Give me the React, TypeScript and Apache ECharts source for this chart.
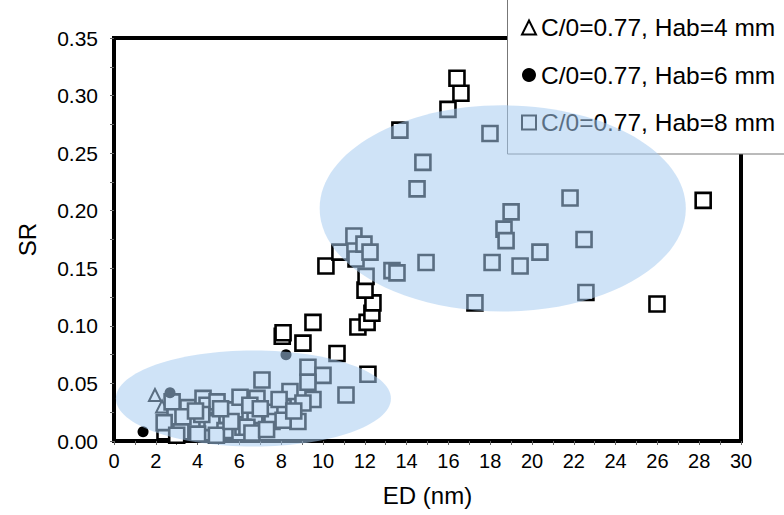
import React, { useEffect, useRef } from "react";
import * as echarts from "echarts";

const seriesNames = ["C/0=0.77, Hab=4 mm", "C/0=0.77, Hab=6 mm", "C/0=0.77, Hab=8 mm"];

const xRange = [0, 30];
const xStep = 2;
const yRange = [0, 0.35];
const yStep = 0.05;

const hab4Points: number[][] = [
  [1.96, 0.040],
  [2.3, 0.030],
];

const hab6Points: number[][] = [
  [1.39, 0.008],
  [2.68, 0.042],
  [8.23, 0.075],
];

const hab8Points: number[][] = [
  [2.78, 0.034], [3.54, 0.029], [2.92, 0.021], [4.26, 0.037], [4.45, 0.031],
  [4.93, 0.034], [3.73, 0.014], [4.69, 0.016], [5.41, 0.022], [5.79, 0.027],
  [6.03, 0.038], [7.08, 0.053], [6.84, 0.037], [6.75, 0.022], [6.17, 0.012],
  [5.31, 0.009], [9.28, 0.064], [10.0, 0.057], [9.28, 0.051], [8.42, 0.043],
  [9.52, 0.036], [11.1, 0.040], [8.09, 0.029], [7.46, 0.025], [9.04, 0.033],
  [8.8, 0.017], [7.56, 0.017], [6.36, 0.012], [8.09, 0.018], [12.15, 0.058],
  [2.44, 0.008], [2.4, 0.016], [3.2, 0.008],
  [3.0, 0.005], [4.0, 0.006], [4.9, 0.005], [6.6, 0.007], [7.3, 0.010],
  [3.3, 0.021], [4.2, 0.023], [5.6, 0.017], [7.9, 0.036], [6.5, 0.031],
  [7.0, 0.028], [8.6, 0.026], [5.1, 0.028], [3.9, 0.026],
  [8.05, 0.091], [8.09, 0.094], [9.04, 0.085], [10.67, 0.076], [9.52, 0.103],
  [11.67, 0.099], [12.11, 0.103], [12.34, 0.111], [12.39, 0.120], [12.01, 0.131],
  [12.06, 0.143], [10.14, 0.152], [10.81, 0.164], [11.58, 0.158], [11.48, 0.178],
  [11.96, 0.171], [12.25, 0.164], [13.3, 0.148], [13.54, 0.146], [14.93, 0.155],
  [14.5, 0.219], [14.78, 0.242], [13.68, 0.270], [15.98, 0.288], [16.6, 0.302],
  [16.41, 0.315], [17.99, 0.267], [17.27, 0.120], [18.09, 0.155], [18.66, 0.184],
  [18.76, 0.174], [19.0, 0.199], [19.43, 0.152], [20.38, 0.164], [21.82, 0.211],
  [22.49, 0.175], [22.58, 0.129], [25.98, 0.119], [28.19, 0.209],
];

// highlight ellipses in data units: centre x, centre y, radius x, radius y
const ellipseCx = [18.6, 6.67];
const ellipseCy = [0.202, 0.037];
const ellipseRx = [8.76, 6.58];
const ellipseRy = [0.0895, 0.0417];

export default function App() {
  const ref = useRef<HTMLDivElement>(null);
  useEffect(() => {
    const chart = echarts.init(ref.current!, null, { renderer: "svg" });
    const font = "'Liberation Sans', Arial, Helvetica, sans-serif";
    const tickStyle = { color: "#666", width: 1 };
    chart.setOption({
      animation: false,
      backgroundColor: "#fff",
      textStyle: { fontFamily: font },
      grid: {
        left: 114,
        right: 43,
        top: 38,
        bottom: 74,
        show: true,
        borderColor: "#000",
        borderWidth: 4,
        backgroundColor: "transparent",
        outerBoundsMode: "none",
        containLabel: false,
      },
      legend: {
        orient: "vertical",
        left: 521,
        top: 15,
        padding: 0,
        itemWidth: 14,
        itemHeight: 14,
        itemGap: 22.5,
        z: 5,
        selectedMode: false,
        textStyle: { fontSize: 24.5, lineHeight: 24.5, color: "#000", fontFamily: font },
        data: seriesNames,
      },
      xAxis: {
        type: "value",
        min: xRange[0],
        max: xRange[1],
        interval: xStep,
        axisLine: { show: false },
        axisTick: { show: true, length: 4, lineStyle: tickStyle },
        minorTick: { show: true, splitNumber: 2, length: 4, lineStyle: tickStyle },
        splitLine: { show: false },
        axisLabel: { fontSize: 20, color: "#000", margin: 10, fontFamily: font },
        name: "ED (nm)",
        nameLocation: "middle",
        nameGap: 42,
        nameTextStyle: { fontSize: 24, color: "#000", fontFamily: font },
      },
      yAxis: {
        type: "value",
        min: yRange[0],
        max: yRange[1],
        interval: yStep,
        axisLine: { show: false },
        axisTick: { show: true, length: 4, lineStyle: tickStyle },
        minorTick: { show: true, splitNumber: 2, length: 4, lineStyle: tickStyle },
        splitLine: { show: false },
        axisLabel: {
          fontSize: 21,
          color: "#000",
          margin: 16,
          fontFamily: font,
          formatter: (v: number) => v.toFixed(2),
        },
        name: "SR",
        nameLocation: "middle",
        nameGap: 75,
        nameTextStyle: { fontSize: 24, color: "#000", fontFamily: font },
      },
      series: [
        {
          name: seriesNames[0],
          type: "scatter",
          symbol: "triangle",
          symbolSize: 12,
          z: 2,
          itemStyle: { color: "#fff", borderColor: "#000", borderWidth: 2, opacity: 1 },
          data: hab4Points,
        },
        {
          name: seriesNames[2],
          type: "scatter",
          symbol: "rect",
          symbolSize: 15,
          z: 2,
          itemStyle: { color: "#fff", borderColor: "#000", borderWidth: 2.6, opacity: 1 },
          data: hab8Points,
        },
        {
          name: seriesNames[1],
          type: "scatter",
          symbol: "circle",
          symbolSize: 11,
          z: 2,
          itemStyle: { color: "#000", borderColor: "#000", borderWidth: 0, opacity: 1 },
          data: hab6Points,
        },
      ],
    });

    const ellipses = ellipseCx.map((cx, i) => {
      const c = chart.convertToPixel({ gridIndex: 0 }, [cx, ellipseCy[i]]) as number[];
      const r = chart.convertToPixel({ gridIndex: 0 }, [cx + ellipseRx[i], ellipseCy[i] + ellipseRy[i]]) as number[];
      return {
        type: "ellipse",
        z: 100,
        silent: true,
        shape: { cx: c[0], cy: c[1], rx: r[0] - c[0], ry: c[1] - r[1] },
        style: { fill: "rgba(167,204,241,0.54)" },
      };
    });

    chart.setOption({
      graphic: [
        {
          type: "rect",
          z: 3,
          silent: true,
          shape: { x: 507.5, y: -2, width: 290, height: 156 },
          style: { fill: "#fff", stroke: "#777", lineWidth: 1 },
        },
        ...ellipses,
      ],
    });

    return () => chart.dispose();
  }, []);
  return <div ref={ref} style={{ position: "fixed", left: 0, top: 0, width: 784, height: 515 }} />;
}
